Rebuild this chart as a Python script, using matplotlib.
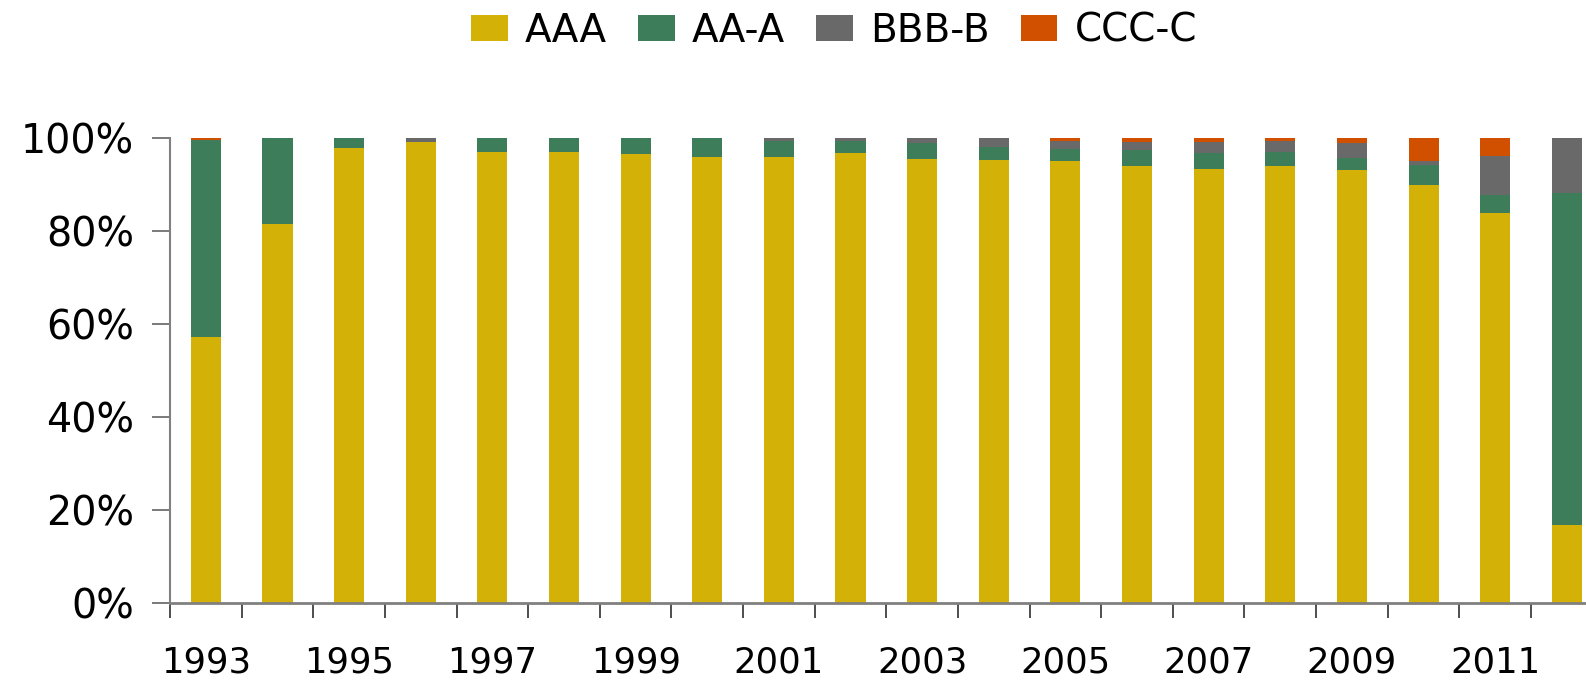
import numpy as np
import matplotlib
matplotlib.use("Agg")
import matplotlib.pyplot as plt

plt.rcParams["font.family"] = ["DejaVu Sans"]

years = list(range(1993, 2013))
# share of each rating bucket per year, in percent
aaa = [57.2, 81.5, 97.9, 99.1, 97.0, 97.0, 96.6, 95.9, 95.9, 96.8,
       95.5, 95.3, 95.1, 94.0, 93.3, 94.0, 93.1, 89.9, 83.9, 16.9]
aa_a = [42.4, 18.5, 2.1, 0.0, 3.0, 3.0, 3.4, 4.1, 3.4, 2.5,
        3.4, 2.8, 2.6, 3.4, 3.4, 3.0, 2.6, 4.2, 3.8, 71.3]
bbb_b = [0.0, 0.0, 0.0, 0.9, 0.0, 0.0, 0.0, 0.0, 0.7, 0.7,
         1.1, 1.9, 1.7, 1.7, 2.4, 2.4, 3.2, 0.9, 8.4, 11.8]
ccc_c = [0.4, 0.0, 0.0, 0.0, 0.0, 0.0, 0.0, 0.0, 0.0, 0.0,
         0.0, 0.0, 0.6, 0.9, 0.9, 0.6, 1.1, 4.9, 3.9, 0.0]

series = [("AAA", aaa, "#D4B106"),
          ("AA-A", aa_a, "#3E7D5A"),
          ("BBB-B", bbb_b, "#696969"),
          ("CCC-C", ccc_c, "#D05000")]

fig = plt.figure(figsize=(15.86, 6.85), dpi=100)
ax = fig.add_axes([0.1072, 0.119, 0.9033, 0.6796])

x = np.arange(len(years))
bottom = np.zeros(len(years))
handles = []
for name, vals, color in series:
    vals = np.array(vals) / 100.0
    b = ax.bar(x, vals, width=0.42, bottom=bottom, color=color, label=name,
               linewidth=0)
    handles.append(b)
    bottom += vals

ax.set_xlim(-0.5, len(years) - 0.5)
ax.set_ylim(0, 1)

for side in ("top", "right"):
    ax.spines[side].set_visible(False)
ax.spines["left"].set_color("#808080")
ax.spines["left"].set_linewidth(1.5)
ax.spines["bottom"].set_color("#808080")
ax.spines["bottom"].set_linewidth(2)

ax.set_yticks(np.arange(0, 1.01, 0.2))
ax.set_yticklabels([f"{int(round(v * 100))}%" for v in np.arange(0, 1.01, 0.2)])
ax.tick_params(axis="y", length=13, width=1.3, color="#707070", pad=13,
               labelsize=28.5, labelcolor="black")

# year labels on every other bar, tick marks between bars
ax.set_xticks(x[::2])
ax.set_xticklabels([str(y) for y in years[::2]])
ax.tick_params(axis="x", which="major", length=0, pad=30, labelsize=25.5)
ax.set_xticks(np.arange(-0.5, len(years), 1.0), minor=True)
ax.tick_params(axis="x", which="minor", length=11, width=1.3, color="#404040")

fig.legend(handles=handles, loc="upper center", bbox_to_anchor=(0.526, 1.02),
           ncol=4, frameon=False, fontsize=28, handlelength=0.93,
           handleheight=0.67, handletextpad=0.45, columnspacing=0.8,
           borderaxespad=0.25)

fig.savefig("out.png", dpi=100)
